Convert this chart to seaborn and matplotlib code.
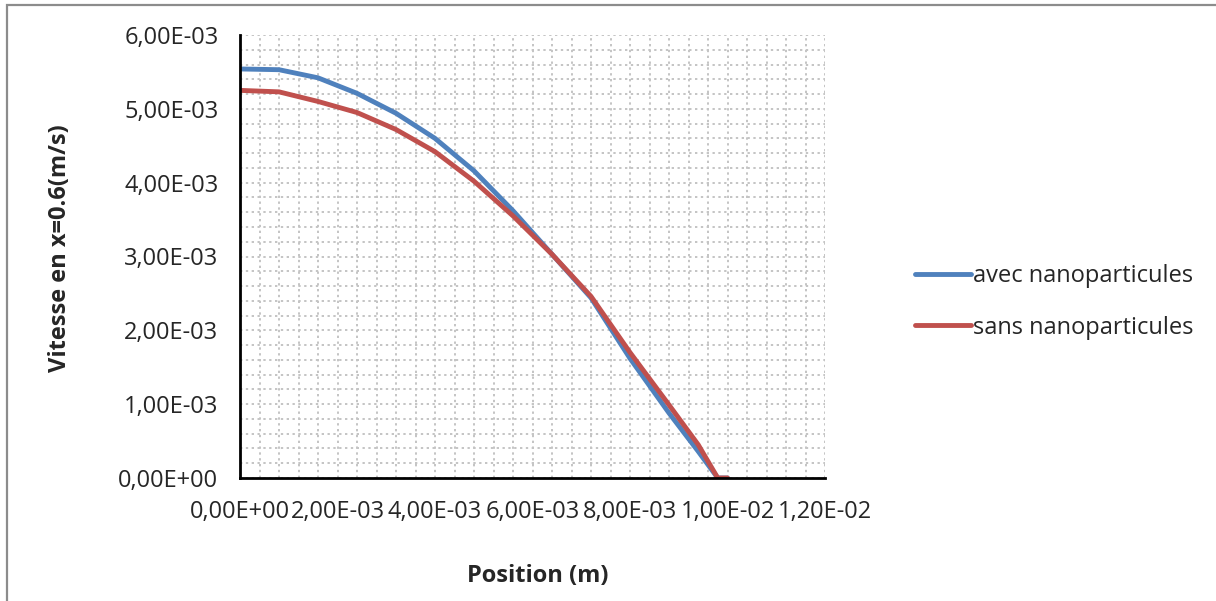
import matplotlib
matplotlib.use("Agg")
import matplotlib.pyplot as plt
from matplotlib.ticker import MultipleLocator, FuncFormatter
from matplotlib.patches import Rectangle
from matplotlib.lines import Line2D
import seaborn as sns
import pandas as pd

# Data
position = [0.0, 0.8e-3, 1.6e-3, 2.4e-3, 3.2e-3, 4.0e-3, 4.8e-3, 5.6e-3,
            6.4e-3, 7.2e-3, 8.0e-3, 8.8e-3, 9.4e-3, 9.8e-3, 10.0e-3]
avec = [5.54e-3, 5.53e-3, 5.42e-3, 5.21e-3, 4.94e-3, 4.60e-3, 4.16e-3, 3.62e-3,
        3.03e-3, 2.44e-3, 1.62e-3, 0.88e-3, 0.36e-3, 0.0, 0.0]
sans = [5.25e-3, 5.23e-3, 5.10e-3, 4.95e-3, 4.72e-3, 4.42e-3, 4.02e-3, 3.55e-3,
        3.03e-3, 2.46e-3, 1.70e-3, 0.99e-3, 0.45e-3, 0.0, 0.0]
series_names = ["avec nanoparticules", "sans nanoparticules"]
colors = ["#4F81BD", "#C0504D"]

df = pd.concat([
    pd.DataFrame({"Position": position, "Vitesse": avec, "Série": series_names[0]}),
    pd.DataFrame({"Position": position, "Vitesse": sans, "Série": series_names[1]}),
], ignore_index=True)

sns.set_style("white")
plt.rcParams["font.family"] = ["Open Sans", "DejaVu Sans"]

W, H = 1216, 601
fig = plt.figure(figsize=(W / 100, H / 100), dpi=100)
ax = fig.add_axes([240 / W, 1 - 478 / H, 585 / W, 443 / H])

LW = 3.5
sns.lineplot(data=df, x="Position", y="Vitesse", hue="Série",
             palette=dict(zip(series_names, colors)), sort=False,
             linewidth=LW, ax=ax, legend=False)

ax.set_xlim(0, 1.2e-2)
ax.set_ylim(0, 6e-3)
ax.xaxis.set_major_locator(MultipleLocator(2e-3))
ax.xaxis.set_minor_locator(MultipleLocator(0.4e-3))
ax.yaxis.set_major_locator(MultipleLocator(1e-3))
ax.yaxis.set_minor_locator(MultipleLocator(0.2e-3))

fmt = FuncFormatter(lambda v, p: f"{v:.2E}".replace(".", ","))
ax.xaxis.set_major_formatter(fmt)
ax.yaxis.set_major_formatter(fmt)

ax.grid(which="both", color="#C4C4C4", linestyle=(0, (1.2, 1.8)), linewidth=1.4)
ax.set_axisbelow(True)

for s in ["top", "right"]:
    ax.spines[s].set_visible(False)
for s in ["left", "bottom"]:
    ax.spines[s].set_color("black")
    ax.spines[s].set_linewidth(2.0)

ax.tick_params(axis="both", which="major", direction="out", length=6.5,
               width=2.0, color="black", labelsize=17)
ax.tick_params(axis="x", which="major", pad=9)
ax.tick_params(axis="y", which="major", pad=9)
ax.tick_params(axis="both", which="minor", length=0)

ax.set_xlabel("Position (m)", fontsize=17, fontweight="bold")
ax.set_ylabel("Vitesse en x=0.6(m/s)", fontsize=17, fontweight="bold")
ax.xaxis.set_label_coords((538 - 240) / 585, -(564 - 478) / 443)
ax.yaxis.set_label_coords(-(240 - 72) / 585, (478 - 248) / 443)

handles = [Line2D([], [], color=c, linewidth=LW, solid_capstyle="round") for c in colors]
fig.legend(handles, series_names, loc="center left",
           bbox_to_anchor=(894 / W, 1 - 302 / H), frameon=False,
           fontsize=17, handlelength=2.35, handletextpad=0.08, labelspacing=1.15)

fig.patches.append(Rectangle((7 / W, -0.1), 1.2, 1 - 5 / H + 0.1,
                             transform=fig.transFigure, fill=False,
                             edgecolor="#8C8C8C", linewidth=1.6))

fig.savefig("out.png", dpi=100)
